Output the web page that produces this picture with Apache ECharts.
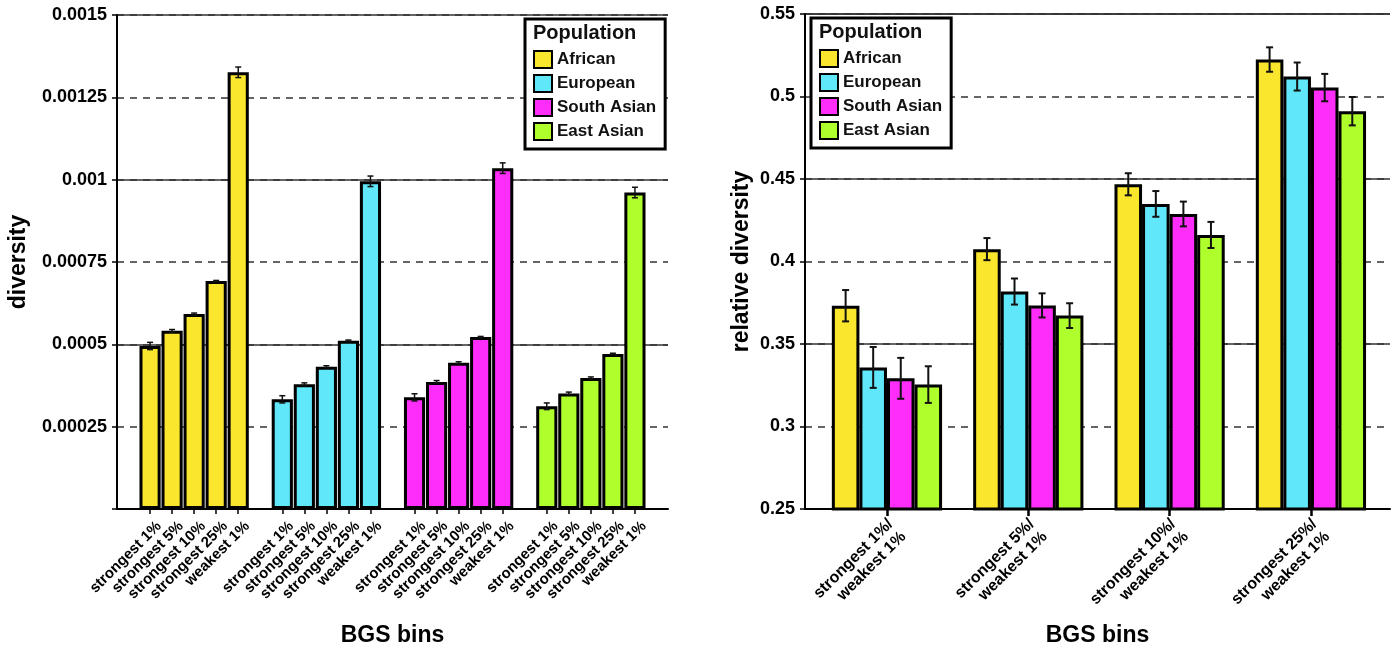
<!DOCTYPE html>
<html>
<head>
<meta charset="utf-8">
<script src="https://cdn.jsdelivr.net/npm/echarts@6/dist/echarts.min.js"></script>
<style>
  html, body { margin: 0; padding: 0; background: #fff; }
  #chart { width: 1395px; height: 650px; }
</style>
</head>
<body>
<div id="chart"></div>
<script>
// Populations and their fill colours
const populations = ['African', 'European', 'South Asian', 'East Asian'];
const popColors = ['#FAE62D', '#60E8FA', '#FF2DFA', '#AFFF2D'];

// Left panel: absolute diversity per BGS bin
const bins = ['strongest 1%', 'strongest 5%', 'strongest 10%', 'strongest 25%', 'weakest 1%'];
const divAfrican    = [0.000495, 0.000541, 0.000592, 0.000692, 0.001326];
const divEuropean   = [0.000333, 0.000379, 0.000432, 0.000511, 0.000995];
const divSouthAsian = [0.000339, 0.000386, 0.000444, 0.000522, 0.001035];
const divEastAsian  = [0.000312, 0.000351, 0.000398, 0.000471, 0.000961];
const errAfrican    = [0.000011, 0.000004, 0.000003, 0.000002, 0.000016];
const errEuropean   = [0.000011, 0.000004, 0.000003, 0.000002, 0.000016];
const errSouthAsian = [0.000011, 0.000004, 0.000003, 0.000002, 0.000016];
const errEastAsian  = [0.000010, 0.000004, 0.000003, 0.000002, 0.000016];

// Right panel: diversity relative to the weakest 1% bin
const relBins = ['strongest 1%/\nweakest 1%', 'strongest 5%/\nweakest 1%', 'strongest 10%/\nweakest 1%', 'strongest 25%/\nweakest 1%'];
const relAfrican    = [0.3732, 0.4075, 0.4468, 0.5224];
const relEuropean   = [0.3358, 0.3818, 0.4349, 0.5121];
const relSouthAsian = [0.3292, 0.3734, 0.4288, 0.5054];
const relEastAsian  = [0.3254, 0.3672, 0.4161, 0.4911];
const relErrAfrican    = [0.0095, 0.0067, 0.0067, 0.0074];
const relErrEuropean   = [0.0124, 0.0079, 0.0078, 0.0085];
const relErrSouthAsian = [0.0124, 0.0073, 0.0075, 0.0083];
const relErrEastAsian  = [0.0111, 0.0075, 0.0079, 0.0086];

// Axis tick settings
const leftTicks = { min: 0, max: 0.0015, step: 0.00025 };
const rightTicks = { min: 0.25, max: 0.55, step: 0.05 };

const FONT = '"Liberation Sans", Arial, Helvetica, sans-serif';
const divValues = [divAfrican, divEuropean, divSouthAsian, divEastAsian];
const divErrors = [errAfrican, errEuropean, errSouthAsian, errEastAsian];
const relValues = [relAfrican, relEuropean, relSouthAsian, relEastAsian];
const relErrors = [relErrAfrican, relErrEuropean, relErrSouthAsian, relErrEastAsian];

// Left panel slots: an empty slot, five bins, an empty slot, ... (25 slots)
const groupSize = bins.length + 1;
const slotCount = populations.length * groupSize + 1;
const slotKeys = [];
const slotLabels = [];
for (let i = 0; i < slotCount; i++) {
  slotKeys.push('slot' + i);
  slotLabels.push(i % groupSize === 0 ? '' : bins[(i % groupSize) - 1]);
}

const leftBarSeries = populations.map((name, p) => {
  const data = new Array(slotCount).fill(null);
  divValues[p].forEach((v, b) => { data[p * groupSize + 1 + b] = v; });
  return {
    name, type: 'bar', xAxisIndex: 0, yAxisIndex: 0,
    data, barGap: '-100%', barCategoryGap: '4%',
    itemStyle: { color: popColors[p], borderColor: '#000', borderWidth: 3 },
    z: 3
  };
});

const leftErrData = [];
populations.forEach((name, p) => {
  divValues[p].forEach((v, b) => {
    leftErrData.push([p * groupSize + 1 + b, v, divErrors[p][b]]);
  });
});

const rightBarSeries = populations.map((name, p) => ({
  name, type: 'bar', xAxisIndex: 2, yAxisIndex: 4,
  data: relValues[p], barGap: '0%', barCategoryGap: '22%',
  itemStyle: { color: popColors[p], borderColor: '#000', borderWidth: 3 },
  z: 3
}));

const rightErrData = [];
populations.forEach((name, p) => {
  relValues[p].forEach((v, c) => {
    rightErrData.push([c, v, relErrors[p][c], p]);
  });
});

function errorBar(capHalf, lineW, groupFrac) {
  return function (params, api) {
    const x = api.value(0), v = api.value(1), e = api.value(2);
    const hi = api.coord([x, v + e]);
    const lo = api.coord([x, v - e]);
    let cx = hi[0];
    if (groupFrac) {
      const band = api.size([1, 0])[0];
      const barW = band * groupFrac / populations.length;
      cx += (api.value(3) - (populations.length - 1) / 2) * barW;
    }
    const style = { stroke: '#111', lineWidth: lineW };
    return {
      type: 'group',
      children: [
        { type: 'line', shape: { x1: cx, y1: hi[1], x2: cx, y2: lo[1] }, style },
        { type: 'line', shape: { x1: cx - capHalf, y1: hi[1], x2: cx + capHalf, y2: hi[1] }, style },
        { type: 'line', shape: { x1: cx - capHalf, y1: lo[1], x2: cx + capHalf, y2: lo[1] }, style }
      ]
    };
  };
}

const gridLine = { color: '#333', width: 1.5 };
const dashedLine = { color: '#333', width: 1.5, type: [7, 6] };
const tickLabel = { color: '#000', fontFamily: FONT, fontWeight: 'bold', fontSize: 18 };
const axisTitle = { color: '#000', fontFamily: FONT, fontWeight: 'bold', fontSize: 23 };
const blackLine = { show: true, onZero: false, lineStyle: { color: '#000', width: 2 } };
const hidden = { show: false };

const legendCommon = {
  orient: 'vertical',
  data: populations,
  icon: 'rect',
  itemWidth: 18,
  itemHeight: 17,
  itemGap: 5,
  padding: [31, 9, 8, 8],
  backgroundColor: '#fff',
  borderColor: '#000',
  borderWidth: 3,
  borderRadius: 0,
  selectedMode: false,
  itemStyle: { borderColor: '#000', borderWidth: 2 },
  textStyle: { color: '#111', fontFamily: FONT, fontWeight: 'bold', fontSize: 17, lineHeight: 17 },
  z: 10
};

// fixed plot rectangles; no automatic shrinking to fit labels
function panel(left, top, width, height) {
  return { left, top, width, height, containLabel: false, outerBoundsMode: 'none' };
}

const option = {
  animation: false,
  backgroundColor: '#fff',
  grid: [
    panel(117, 15, 551, 494),        // left panel
    panel(805, 14, 585, 495),        // right panel frame
    panel(816.3, 14, 565.3, 495),    // right panel bars
    panel(126, 15, 551, 494),        // left bin labels
    panel(826.3, 14, 565.3, 495)     // right bin labels
  ],
  legend: [
    Object.assign({}, legendCommon, { left: 525, top: 19 }),
    Object.assign({}, legendCommon, { left: 811, top: 18 })
  ],
  graphic: [
    { type: 'text', left: 533, top: 23, z: 100,
      style: { text: 'Population', font: 'bold 20px ' + FONT, fill: '#111' } },
    { type: 'text', left: 819, top: 22, z: 100,
      style: { text: 'Population', font: 'bold 20px ' + FONT, fill: '#111' } }
  ],
  xAxis: [
    {
      gridIndex: 0, type: 'category', data: slotKeys,
      axisLine: blackLine,
      axisTick: {
        show: true, alignWithLabel: true, length: 5,
        interval: (index) => index % groupSize !== 0,
        lineStyle: { color: '#000', width: 1.5 }
      },
      axisLabel: hidden,
      name: 'BGS bins', nameLocation: 'middle', nameGap: 115, nameTextStyle: axisTitle
    },
    {
      gridIndex: 1, type: 'value', min: 0, max: 1,
      axisLine: blackLine, axisTick: hidden, axisLabel: hidden,
      splitLine: hidden,
      name: 'BGS bins', nameLocation: 'middle', nameGap: 115, nameTextStyle: axisTitle
    },
    {
      gridIndex: 2, type: 'category', data: relBins,
      axisLine: hidden,
      axisTick: { show: true, alignWithLabel: true, length: 7, lineStyle: { color: '#000', width: 2.5 } },
      axisLabel: hidden
    },
    {
      gridIndex: 3, type: 'category', data: slotKeys,
      axisLine: hidden, axisTick: hidden,
      axisLabel: {
        interval: 0, rotate: 45, margin: 15,
        formatter: (value, index) => slotLabels[index],
        color: '#000', fontFamily: FONT, fontWeight: 'bold', fontSize: 15
      }
    },
    {
      gridIndex: 4, type: 'category', data: relBins,
      axisLine: hidden, axisTick: hidden,
      axisLabel: {
        interval: 0, rotate: 45, margin: 19,
        color: '#000', fontFamily: FONT, fontWeight: 'bold', fontSize: 16, lineHeight: 18
      }
    }
  ],
  yAxis: [
    {
      gridIndex: 0, type: 'value', min: leftTicks.min, max: leftTicks.max, interval: leftTicks.step,
      axisLine: blackLine,
      axisTick: { show: true, length: 5, lineStyle: { color: '#000', width: 1.5 } },
      axisLabel: Object.assign({ margin: 10, formatter: (v) => (v === 0 ? '' : String(+v.toPrecision(6))) }, tickLabel),
      splitLine: { show: true, lineStyle: dashedLine },
      name: 'diversity', nameLocation: 'middle', nameGap: 87, nameTextStyle: axisTitle
    },
    {
      gridIndex: 0, type: 'value', min: leftTicks.min, max: leftTicks.max, interval: leftTicks.step * 2,
      position: 'left',
      axisLine: hidden, axisTick: hidden, axisLabel: hidden,
      splitLine: { show: true, lineStyle: gridLine }
    },
    {
      gridIndex: 1, type: 'value', min: rightTicks.min, max: rightTicks.max, interval: rightTicks.step,
      axisLine: blackLine,
      axisTick: { show: true, length: 5, lineStyle: { color: '#000', width: 1.5 } },
      axisLabel: Object.assign({ margin: 10, formatter: (v) => String(+v.toPrecision(6)) }, tickLabel),
      splitLine: { show: true, lineStyle: dashedLine },
      name: 'relative diversity', nameLocation: 'middle', nameGap: 52, nameTextStyle: axisTitle
    },
    {
      // solid lines every 0.1 from the floor (0.35, 0.45, 0.55), shifted to start at 0
      gridIndex: 1, type: 'value', min: 0, max: rightTicks.max - rightTicks.min, interval: rightTicks.step * 2,
      position: 'left',
      axisLine: hidden, axisTick: hidden, axisLabel: hidden,
      splitLine: { show: true, lineStyle: gridLine }
    },
    { gridIndex: 2, type: 'value', min: rightTicks.min, max: rightTicks.max, show: false },
    { gridIndex: 3, type: 'value', min: leftTicks.min, max: leftTicks.max, show: false },
    { gridIndex: 4, type: 'value', min: rightTicks.min, max: rightTicks.max, show: false }
  ],
  series: [
    ...leftBarSeries,
    {
      type: 'custom', xAxisIndex: 0, yAxisIndex: 0, z: 5,
      renderItem: errorBar(3, 1.5, 0), data: leftErrData,
      encode: { x: 0, y: 1 }
    },
    ...rightBarSeries,
    {
      type: 'custom', xAxisIndex: 2, yAxisIndex: 4, z: 5,
      renderItem: errorBar(3.5, 2, 0.78), data: rightErrData,
      encode: { x: 0, y: 1 }
    }
  ]
};

const chart = echarts.init(document.getElementById('chart'));
chart.setOption(option);
</script>
</body>
</html>
